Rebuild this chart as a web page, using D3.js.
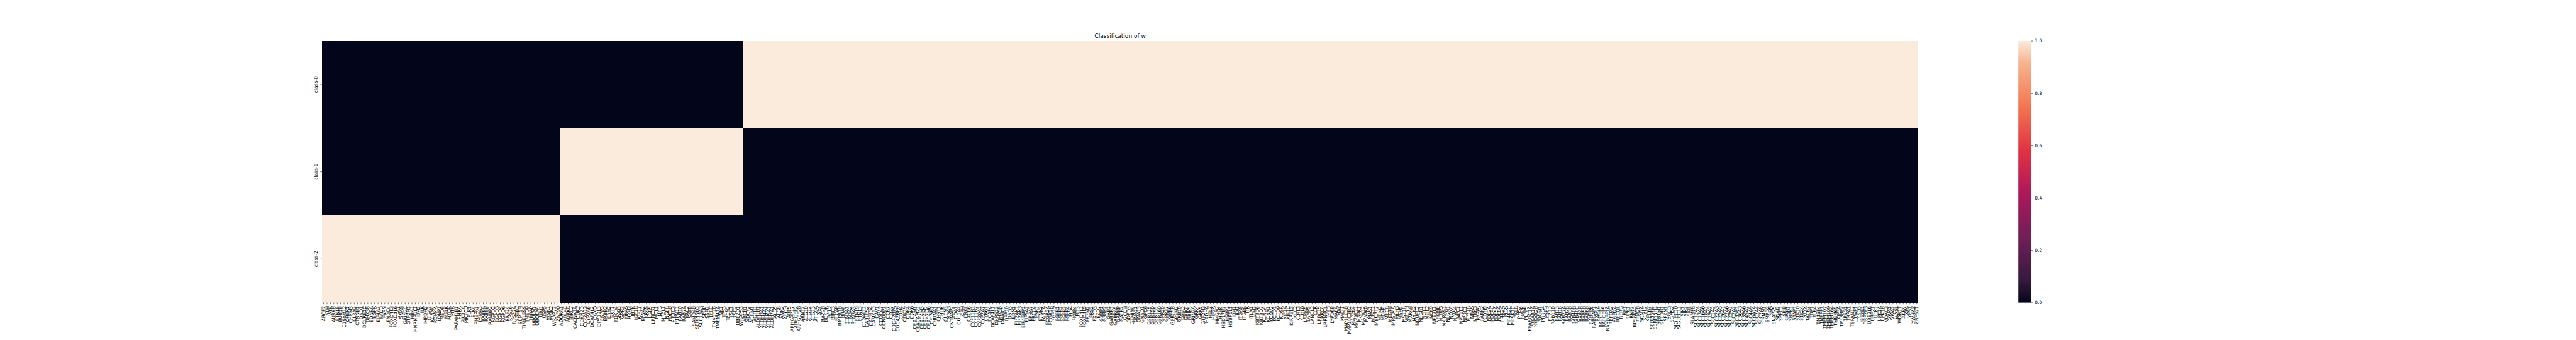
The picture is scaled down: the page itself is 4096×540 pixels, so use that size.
<!DOCTYPE html>
<html>
<head>
<meta charset="utf-8">
<script src="https://cdn.jsdelivr.net/npm/d3@7"></script>
<style>
  html, body { margin: 0; padding: 0; background: #fff; }
  svg { display: block; }
  text { font-family: "DejaVu Sans", sans-serif; fill: #000; }
</style>
</head>
<body>
<svg id="chart" width="4096" height="540"></svg>
<script>
// ---------------- data ----------------
const title = "Classification of w";
const classes = ["class-0", "class-1", "class-2"];

// columns, in the order they appear left to right; each block belongs to one class
const genesClass2 = ["ABCF2","ATM","ATR","AURKB","BTNL8","BUB1B","C19orf12","CHEK1","CHRM3","CLRN3","CTNNB1","DAD1","DCLRE1C","DHX38","EDNRA","EGFR","EIF4A3","FADD","FASN","FNDC4","FOXD4L3","FOXD4L6","GGA1","GNAS","GRIN2C","GTF2H1","HBA1","HNRNPUL1","IDH2","ILK","IMPDH2","ITGA3","KCNN4","KDM4A","LONP1","MED8","MELK","MTOR","MTR","PAFAH1B1","PI4KA","PIK3CA","PIK3CD","PLK1","PLK4","PMEPA1","PSMA3","RAB6A","RAB8B","RANBP2","RGPD2","RGPD3","RGPD4","RGPD6","RNF14","RPS16","RPS27A","SAFB2","SUPT5H","TIMELESS","TMED9","TRRAP","UBQLN1","UBQLN4","URI1","USP5","WNK1","WNK2","WRAP73","ZNF90"];

const genesClass1 = ["ADORA1","ARL4C","AURKA","BIRC2","CACNA1A","CDK2","CDKN2D","CYP2A13","CYP2A6","DCAF4L2","DGKQ","DPY19L3","ENPP3","ERBB2","ERN2","EXT1","FOXD4","GNAI3","GPR3","HRAS","HRH3","IBTK","IGF1R","KIF11","KPNA2","KRAS","LGR5","LRRC31","MCL1","MPG","MPZL1","NGFR","PDE3B","PIK3C3","PTPN11","RAB10","RAB7A","RAC2","SAFB","SAMD4B","SERPINB3","SLC13A3","SPOP","SSH3","TFRC","TM4SF18","TMEM41A","TNK1","TP53","TPCN2","TSC1","TSC2","UBE2Q1","WRAP53"];

const genesClass0 = [
  "ABCB1","ADCY2","ADRM1","AGTR1","ALDH1B1","ALDH3A1","ALDH4A1","ALDH5A1","ALDH7A1","ALG5",
  "ALG8","ANK2","APOH","ARF5","ARHGAP17","ARHGEF2","ARHGEF28","ARNT2","ATG10","ATG12","ATG13","ATG9A","AXL","BAZ2B","BCKDK","BCL2","BIRC3","BLCAP","BMPR1B","BRAF","BTN3A1","BTN3A2","BTN3A3","BTNL9","BTNL3","C1GALT1","CABLES2","CACNG4","CAMK1D","CAV1","CCDC47","CCNDBP1","CCR7","CD22","CDC42BPA","CDC42BPB","CDH4","CDK19","CDK4","CDK6","CEACAM1","CEACAM21","CEACAM3","CEACAM5","CEACAM6","CELSR1","CHRNA1","CHST1","CHUK",
  "CLCN3","CNGA3","CNTNAP2","COA1","COL1A2","CPM","CRKL","CXCR6","CYP11B1","CYP11B2","CYP20A1","CYP2A7","CYR61","DCAF4","DCAF4L1","DHRS13","DHX58","DNAJC5","DPP10","DSG3","EDN1","EIF2AK1","EIF2AK3","EIF4EBP1","EIF5A2","EPHA7","ERCC4","ESR1","ETNK2","FANCA","FCGR2A","FCGR2B","FGF19","FGFR1","FGFR2","FGFR3","FGFR4","FIG4","FKBP4","FLT3","FOXD4L1","FOXD4L5","FREM2","FRS2","FXYD3","FZD7","G3BP1","G3BP2",
  "GAB1","GABBR1","GABRA5","GABRP","GALR2","GCDH","GDPD3","GEMIN4","GNA11","GNA13","GNAO1","GPC6","GPR115","GPR150","GPR155","GPR160","GPR20","GPR37","GPR6","GPRC5B","GPSM2","GRB10","GRIA2","GRIK4","GRIK5","GRIN3A","GRK4","GRK5","GTF2H3","HADHA","HELZ","HIF3A","HMGN2","HRH4","HSD17B7","HSBP1","HSBP1L1","IDH1","IDI1","ITGA8","ITGB8","ITK","ITLN1","JAM3","KBTBD6","KBTBD7","KCNG4","KCNN1","KCNV2",
  "KCTD1","KCTD9","KDSR","KIF1A","KIF1C","KIRREL3","KLC2","KLHL3","KLHL8","LAMA5","LAMP5","LANCL2","LCK","LRRC15","LRRC4","LRRN4CL","LY6D","LYPD6B","MAEA","MAL","MALT1","MAP1LC3B","MAP1LC3B2","MAP2K4","MAP3K11","MAPK1","MAPK12","MAPK9","MAS1","MAST1","MBOAT7","MDM2","MDM4","MECR","MEGF8","MFSD4A","MLH3","MSH5","MST1R","MUTYH","MXRA8","MYLK2","NDUFC2","NEGR1","NEIL1","NEIL2","NEK9","NFE2L1","NFKBIE","NLRP3",
  "NKIRAS1","NLGN1","NOX4","NPAS4","NPC1","NPC1L1","NPDC1","NPY1R","NRAS","NTRK3","PAPPA","PARK2","PCDH9","PDE2A","PDE4C","PDE5A","PDE8A","PI4K2A","PIGS","PIP4K2C","PIP5K1C","PKLR","PMS2","PMVK","PLPP5","PPARGC1A","PRKAR1A","PRKAR2B","PROM1","PRRG4","PSPH","PTPRD","RAB11B","RAB13","RAB18","RAB27A","RAB28","RAB3B","RAB40B","RAB40C","RAB4B","RAB5B","RAB6B","RABEPK","RABGAP1","RAP2A","RAPGEF2","RAPGEF5","RASGEF1A",
  "RBFOX2","RBM24","RECQL","RERG","RET","RIPK1","RNF2","RPS6KA2","RRM2B","SCN7A","SCYL2","SEC62","SERPINB4","SERPINH1","SERTM1","SETDB1","SFXN1","SGCG","SGMS2","SIGLEC10","SIGLEC11","SIK1","SIK2","SKIL","SLAMF8","SLC12A7","SLC13A2","SLC16A6","SLC18A1","SLC19A2","SLC1A2","SLC22A3","SLC25A5","SLC26A1","SLC27A6","SLC29A1","SLC2A2","SLC35E1","SLC36A3","SLC39A6","SLC45A2","SLC4A9","SLC6A14","SLC7A4","SLC7A8","SMN1","SMPD2",
  "SMS","SNAP25","SNAI2","SPEC1","SPIB","SPSB1","SRPK1","STAP1","STK10","STK24","STYX","TACR2","TDP1","TLR4","TM4SF4","TMEFF1","TMEM107","TMEM109","TMEM164","TMEM65","TOP3A","TP53BP2","TPSG1","TRPA1","TSPAN17","TWF1","TYRO3","UBE2E1","UBE2E3","UBE2L6","UBE2T","ULK1","UPK1A","UPK1B","VDAC3","VWA1","VWA2","WASL","WDR11","XKR4","XPA","YES1","YWHAZ","ZNF521"
];

const colorbarTicks = [0.0, 0.2, 0.4, 0.6, 0.8, 1.0];

// seaborn "rocket" colormap stops (for the colour scale)
const rocketStops = [0, 0.083, 0.25, 0.417, 0.583, 0.75, 0.917, 1];
const rocketColors = ["#03051a", "#35193e", "#701f57", "#ad1759", "#e13342", "#f37651", "#f6b48f", "#faebdd"];

// ---------------- build table ----------------
const columns = [
  ...genesClass2.map(g => ({ gene: g, cls: "class-2" })),
  ...genesClass1.map(g => ({ gene: g, cls: "class-1" })),
  ...genesClass0.map(g => ({ gene: g, cls: "class-0" }))
];
const cells = [];
columns.forEach((c, i) => {
  classes.forEach(k => cells.push({ key: i, gene: c.gene, cls: k, value: c.cls === k ? 1 : 0 }));
});

// ---------------- layout (reference pixels, scaled by 0.54) ----------------
const S = 0.54;
const X0 = 948, X1 = 5649, Y0 = 120, Y1 = 890;
const CBX = 5943, CBW = 38.5;
const tickFont = 13.9, titleFont = 16.67;
const tickLen = 4.86, tickPad = 4.86;

const svg = d3.select("#chart");
const g = svg.append("g").attr("transform", `scale(${S})`);

const x = d3.scaleBand().domain(d3.range(columns.length)).range([X0, X1]).padding(0);
const y = d3.scaleBand().domain(classes).range([Y0, Y1]).padding(0);
const color = d3.scaleLinear().domain(rocketStops).range(rocketColors).interpolate(d3.interpolateRgb).clamp(true);

// cells
g.append("g").attr("shape-rendering", "crispEdges")
  .selectAll("rect").data(cells).join("rect")
  .attr("x", d => x(d.key))
  .attr("y", d => y(d.cls))
  .attr("width", x.bandwidth())
  .attr("height", y.bandwidth())
  .attr("fill", d => color(d.value));

// x axis
const xAxis = d3.axisBottom(x)
  .tickFormat(i => columns[i].gene)
  .tickSize(tickLen).tickPadding(tickPad);
const gx = g.append("g").attr("transform", `translate(0,${Y1})`).call(xAxis);
gx.select(".domain").remove();
gx.selectAll(".tick line").attr("stroke", "#000").attr("stroke-width", 1.11);
gx.selectAll(".tick text")
  .attr("font-size", tickFont)
  .attr("font-family", "DejaVu Sans")
  .attr("text-anchor", "end")
  .attr("dy", null)
  .attr("y", 0)
  .attr("transform", `translate(4.6,${tickLen + tickPad}) rotate(-90)`)
  .attr("x", 0);

// y axis
const yAxis = d3.axisLeft(y).tickSize(tickLen).tickPadding(tickPad);
const gy = g.append("g").attr("transform", `translate(${X0},0)`).call(yAxis);
gy.select(".domain").remove();
gy.selectAll(".tick line").attr("stroke", "#000").attr("stroke-width", 1.11);
gy.selectAll(".tick text")
  .attr("font-size", tickFont)
  .attr("font-family", "DejaVu Sans")
  .attr("text-anchor", "middle")
  .attr("x", null).attr("dy", null)
  .attr("transform", `translate(${-(tickLen + tickPad + 3.3)},0) rotate(-90)`);

// title
g.append("text")
  .attr("x", (X0 + X1) / 2)
  .attr("y", Y0 - 8.33)
  .attr("text-anchor", "middle")
  .attr("font-size", titleFont)
  .text(title);

// colorbar
const defs = svg.append("defs");
const grad = defs.append("linearGradient").attr("id", "rocket")
  .attr("x1", 0).attr("y1", 1).attr("x2", 0).attr("y2", 0);
d3.range(0, 1.0001, 0.02).forEach(t => {
  grad.append("stop").attr("offset", t).attr("stop-color", color(t));
});
const cy = d3.scaleLinear().domain([0, 1]).range([Y1, Y0]);
g.append("rect")
  .attr("x", CBX).attr("y", Y0)
  .attr("width", CBW).attr("height", Y1 - Y0)
  .attr("fill", "url(#rocket)");
const cAxis = d3.axisRight(cy).tickValues(colorbarTicks).tickFormat(d3.format(".1f"))
  .tickSize(tickLen).tickPadding(tickPad);
const gc = g.append("g").attr("transform", `translate(${CBX + CBW},0)`).call(cAxis);
gc.select(".domain").remove();
gc.selectAll(".tick line").attr("stroke", "#000").attr("stroke-width", 1.11);
gc.selectAll(".tick text").attr("font-size", tickFont).attr("font-family", "DejaVu Sans");
</script>
</body>
</html>
